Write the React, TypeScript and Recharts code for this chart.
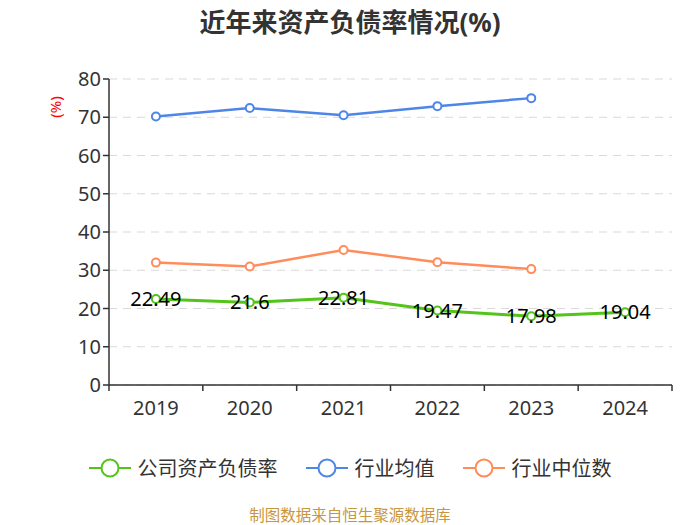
import React from 'react';
import { LineChart, Line, XAxis, YAxis, CartesianGrid, LabelList } from 'recharts';

const years = ['2019', '2020', '2021', '2022', '2023', '2024'];
const companyRatio = [22.49, 21.6, 22.81, 19.47, 17.98, 19.04];
const industryAvg = [70.2, 72.4, 70.5, 72.9, 75.0, null];
const industryMedian = [32.0, 31.0, 35.3, 32.1, 30.3, null];
const yTicks = [0, 10, 20, 30, 40, 50, 60, 70, 80];

const series = [
  { key: 'company', name: '公司资产负债率', color: '#52c41a', width: 3 },
  { key: 'avg', name: '行业均值', color: '#4e86e8', width: 2.5 },
  { key: 'median', name: '行业中位数', color: '#ff8c5a', width: 2.5 },
];

const data = years.map((year, i) => ({
  year,
  company: companyRatio[i],
  avg: industryAvg[i],
  median: industryMedian[i],
}));

const FONT = '"Noto Sans", "Noto Sans CJK SC", sans-serif';
const BAND = 563 / years.length;

// category label in the middle, tick mark on the band boundary
const XTick = (props: any) => {
  const { x, y, payload, index } = props;
  const left = x - BAND / 2;
  return (
    <g>
      <line x1={left} y1={y - 8} x2={left} y2={y - 2} stroke="#333" strokeWidth={1.5} />
      {index === years.length - 1 && (
        <line x1={x + BAND / 2} y1={y - 8} x2={x + BAND / 2} y2={y - 2} stroke="#333" strokeWidth={1.5} />
      )}
      <text x={x} y={y + 22} textAnchor="middle" fill="#333" fontSize={20} fontFamily={FONT}>
        {payload.value}
      </text>
    </g>
  );
};

const LegendIcon = ({ color }: { color: string }) => (
  <svg width={42} height={20} style={{ verticalAlign: 'middle' }}>
    <line x1={0} y1={10} x2={42} y2={10} stroke={color} strokeWidth={2} />
    <circle cx={21} cy={10} r={8.5} fill="#fff" stroke={color} strokeWidth={2} />
  </svg>
);

export default function App() {
  return (
    <div
      style={{
        position: 'absolute',
        left: 0,
        top: 0,
        width: 700,
        height: 525,
        background: '#fff',
        fontFamily: FONT,
        overflow: 'hidden',
      }}
    >
      <div
        style={{
          position: 'absolute',
          top: 2,
          width: 700,
          textAlign: 'center',
          fontSize: 26,
          fontWeight: 'bold',
          color: '#333',
        }}
      >
        近年来资产负债率情况(%)
      </div>
      <div
        style={{
          position: 'absolute',
          left: 38,
          top: 97,
          width: 34,
          fontSize: 15,
          color: '#ff0000',
          transform: 'rotate(-90deg)',
          textAlign: 'center',
        }}
      >
        (%)
      </div>
      <LineChart
        width={700}
        height={525}
        data={data}
        margin={{ top: 79, right: 28, bottom: 110, left: 0 }}
      >
        <CartesianGrid horizontal vertical={false} stroke="#d9d9d9" strokeDasharray="8 6" />
        <XAxis
          dataKey="year"
          height={30}
          stroke="#333"
          strokeWidth={1.5}
          tickLine={false}
          tick={<XTick />}
          interval={0}
          padding={{ left: BAND / 2, right: BAND / 2 }}
        />
        <YAxis
          width={109}
          domain={[0, 80]}
          ticks={yTicks}
          stroke="#333"
          strokeWidth={1.5}
          tickSize={6}
          tick={{ fill: '#333', fontSize: 20, fontFamily: FONT }}
        />
        {series.map((s) => (
          <Line
            key={s.key}
            dataKey={s.key}
            name={s.name}
            type="linear"
            stroke={s.color}
            strokeWidth={s.width}
            dot={{ r: 4, fill: '#fff', stroke: s.color, strokeWidth: 2 }}
            isAnimationActive={false}
          >
            {s.key === 'company' && (
              <LabelList
                dataKey="company"
                position="center"
                fill="#000"
                fontSize={20}
                fontFamily={FONT}
              />
            )}
          </Line>
        ))}
      </LineChart>
      <div
        style={{
          position: 'absolute',
          top: 452,
          width: 700,
          textAlign: 'center',
          fontSize: 20,
          color: '#333',
          whiteSpace: 'nowrap',
        }}
      >
        {series.map((s) => (
          <span key={s.key} style={{ margin: '0 14px' }}>
            <LegendIcon color={s.color} />
            <span style={{ marginLeft: 7, verticalAlign: 'middle' }}>{s.name}</span>
          </span>
        ))}
      </div>
      <div
        style={{
          position: 'absolute',
          top: 506,
          width: 700,
          lineHeight: '18px',
          textAlign: 'center',
          fontSize: 15.5,
          color: '#c8963e',
        }}
      >
        制图数据来自恒生聚源数据库
      </div>
    </div>
  );
}
